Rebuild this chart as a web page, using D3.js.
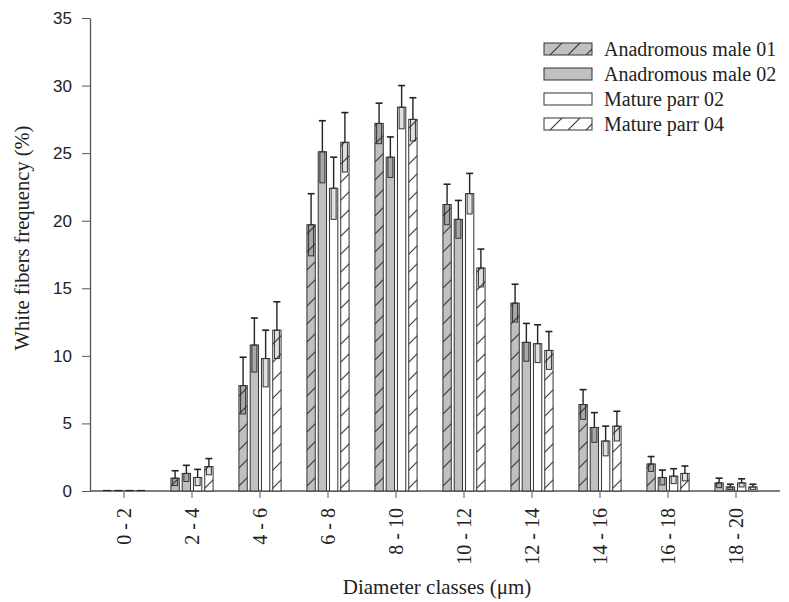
<!DOCTYPE html>
<html>
<head>
<meta charset="utf-8">
<script src="https://cdn.jsdelivr.net/npm/d3@7"></script>
<style>
  body { margin: 0; background: #fff; }
  svg { display: block; }
</style>
</head>
<body>
<div id="chart"></div>
<script>
// diameter classes and series
const classes = ["0 - 2", "2 - 4", "4 - 6", "6 - 8", "8 - 10", "10 - 12", "12 - 14", "14 - 16", "16 - 18", "18 - 20"];
const seriesNames = ["Anadromous male 01", "Anadromous male 02", "Mature parr 02", "Mature parr 04"];

const am01 = [0, 0.95, 7.8, 19.7, 27.2, 21.2, 13.9, 6.4, 2.0, 0.6];
const am01Err = [0, 0.55, 2.1, 2.3, 1.5, 1.5, 1.4, 1.1, 0.55, 0.35];
const am02 = [0, 1.3, 10.8, 25.1, 24.7, 20.1, 11.0, 4.7, 1.0, 0.3];
const am02Err = [0, 0.6, 2.0, 2.3, 1.5, 1.4, 1.4, 1.1, 0.55, 0.2];
const mp02 = [0, 1.0, 9.8, 22.4, 28.4, 22.0, 10.9, 3.7, 1.1, 0.6];
const mp02Err = [0, 0.6, 2.1, 2.3, 1.6, 1.5, 1.4, 1.1, 0.55, 0.3];
const mp04 = [0, 1.8, 11.9, 25.8, 27.5, 16.5, 10.4, 4.8, 1.3, 0.3];
const mp04Err = [0, 0.6, 2.1, 2.2, 1.6, 1.4, 1.4, 1.1, 0.55, 0.2];

const yTicks = [0, 5, 10, 15, 20, 25, 30, 35];

const values = [am01, am02, mp02, mp04];
const errors = [am01Err, am02Err, mp02Err, mp04Err];
const fills = ["url(#hatchGray)", "#c0c0c0", "#ffffff", "url(#hatchWhite)"];

const W = 789, H = 602;
const margin = { top: 18, left: 90, right: 19, bottom: 111 };
const serif = "'Liberation Serif', 'Times New Roman', serif";

const svg = d3.select("#chart").append("svg")
    .attr("width", W)
    .attr("height", H);

const defs = svg.append("defs");
function hatch(id, bg) {
    const p = defs.append("pattern")
        .attr("id", id)
        .attr("patternUnits", "userSpaceOnUse")
        .attr("width", 18)
        .attr("height", 18);
    p.append("rect").attr("width", 18).attr("height", 18).attr("fill", bg);
    p.append("path")
        .attr("d", "M-2,20 L20,-2 M-2,2 L2,-2 M16,20 L20,16")
        .attr("stroke", "#333")
        .attr("stroke-width", 1.1);
}
hatch("hatchGray", "#c0c0c0");
hatch("hatchWhite", "#ffffff");

const x0 = d3.scaleBand()
    .domain(classes)
    .range([margin.left, 770])
    .paddingInner(0.38)
    .paddingOuter(0.19);

const x1 = d3.scaleBand()
    .domain(d3.range(seriesNames.length))
    .range([0, x0.bandwidth()])
    .paddingInner(0.26);

const y = d3.scaleLinear()
    .domain([0, 35])
    .range([H - margin.bottom, margin.top]);

// y axis
const yAxis = svg.append("g")
    .attr("transform", `translate(${margin.left},0)`)
    .call(d3.axisLeft(y).tickValues(yTicks).tickSize(8).tickSizeOuter(0).tickPadding(10));
yAxis.select(".domain").attr("stroke", "#555").attr("stroke-width", 1.3);
yAxis.selectAll(".tick line").attr("stroke", "#555");
yAxis.selectAll("text")
    .attr("font-family", "'Liberation Sans', Arial, sans-serif")
    .attr("font-size", 17)
    .attr("fill", "#222");

// x axis
const xAxis = svg.append("g")
    .attr("transform", `translate(0,${y(0)})`)
    .call(d3.axisBottom(x0).tickSize(7).tickSizeOuter(0));
xAxis.select(".domain").remove();
xAxis.append("line")
    .attr("x1", margin.left).attr("x2", 780)
    .attr("stroke", "#555").attr("stroke-width", 1.3);
xAxis.selectAll(".tick line").attr("stroke", "#555");
xAxis.selectAll(".tick text")
    .attr("transform", "rotate(-90)")
    .attr("x", -17)
    .attr("y", 0)
    .attr("dy", "0.33em")
    .attr("text-anchor", "end")
    .attr("font-family", serif)
    .attr("font-size", 20)
    .attr("fill", "#222");

// bars
const groups = svg.append("g").selectAll("g")
    .data(classes)
    .join("g")
    .attr("transform", d => `translate(${x0(d)},0)`);

const barData = (d, i) => values.map((s, k) => ({ k, v: s[i], e: errors[k][i] }));

groups.selectAll("rect.bar")
    .data((d, i) => barData(d, i).filter(b => b.v > 0))
    .join("rect")
    .attr("class", "bar")
    .attr("x", d => x1(d.k))
    .attr("y", d => y(d.v))
    .attr("width", x1.bandwidth())
    .attr("height", d => y(0) - y(d.v))
    .attr("fill", d => fills[d.k])
    .attr("stroke", "#333")
    .attr("stroke-width", 1);

// zero-height bars show as short dark strokes on the axis
groups.selectAll("line.zero")
    .data((d, i) => barData(d, i).filter(b => b.v === 0))
    .join("line")
    .attr("class", "zero")
    .attr("x1", d => x1(d.k))
    .attr("x2", d => x1(d.k) + x1.bandwidth())
    .attr("y1", y(0) - 0.5)
    .attr("y2", y(0) - 0.5)
    .attr("stroke", "#222")
    .attr("stroke-width", 1.2);

// error bars
const eb = groups.selectAll("g.err")
    .data((d, i) => barData(d, i).filter(b => b.e > 0))
    .join("g")
    .attr("class", "err")
    .attr("transform", d => `translate(${x1(d.k) + x1.bandwidth() / 2},0)`);

eb.append("line")
    .attr("y1", d => y(d.v))
    .attr("y2", d => y(d.v + d.e))
    .attr("stroke", "#222")
    .attr("stroke-width", 1.4);
eb.append("line")
    .attr("x1", -3.5).attr("x2", 3.5)
    .attr("y1", d => y(d.v + d.e))
    .attr("y2", d => y(d.v + d.e))
    .attr("stroke", "#222")
    .attr("stroke-width", 1.6);
eb.append("rect")
    .attr("x", -2.5)
    .attr("width", 5)
    .attr("y", d => y(d.v))
    .attr("height", d => Math.max(0, y(Math.max(0, d.v - d.e)) - y(d.v)))
    .attr("fill", "rgba(0,0,0,0.12)")
    .attr("stroke", "#333")
    .attr("stroke-width", 1);

// axis titles
svg.append("text")
    .attr("x", 437)
    .attr("y", 594)
    .attr("text-anchor", "middle")
    .attr("font-family", serif)
    .attr("font-size", 21)
    .attr("fill", "#222")
    .text("Diameter classes (\u03bcm)");

svg.append("text")
    .attr("transform", "translate(29,238) rotate(-90)")
    .attr("text-anchor", "middle")
    .attr("font-family", serif)
    .attr("font-size", 20.5)
    .attr("fill", "#222")
    .text("White fibers frequency (%)");

// legend
const legend = svg.append("g")
    .selectAll("g")
    .data(seriesNames)
    .join("g")
    .attr("transform", (d, i) => `translate(544,${43 + i * 25})`);
legend.append("rect")
    .attr("width", 48)
    .attr("height", 12)
    .attr("fill", (d, i) => fills[i])
    .attr("stroke", "#333");
legend.append("text")
    .attr("x", 60)
    .attr("y", 6)
    .attr("dy", "0.35em")
    .attr("font-family", serif)
    .attr("font-size", 20)
    .attr("fill", "#222")
    .text(d => d);
</script>
</body>
</html>
